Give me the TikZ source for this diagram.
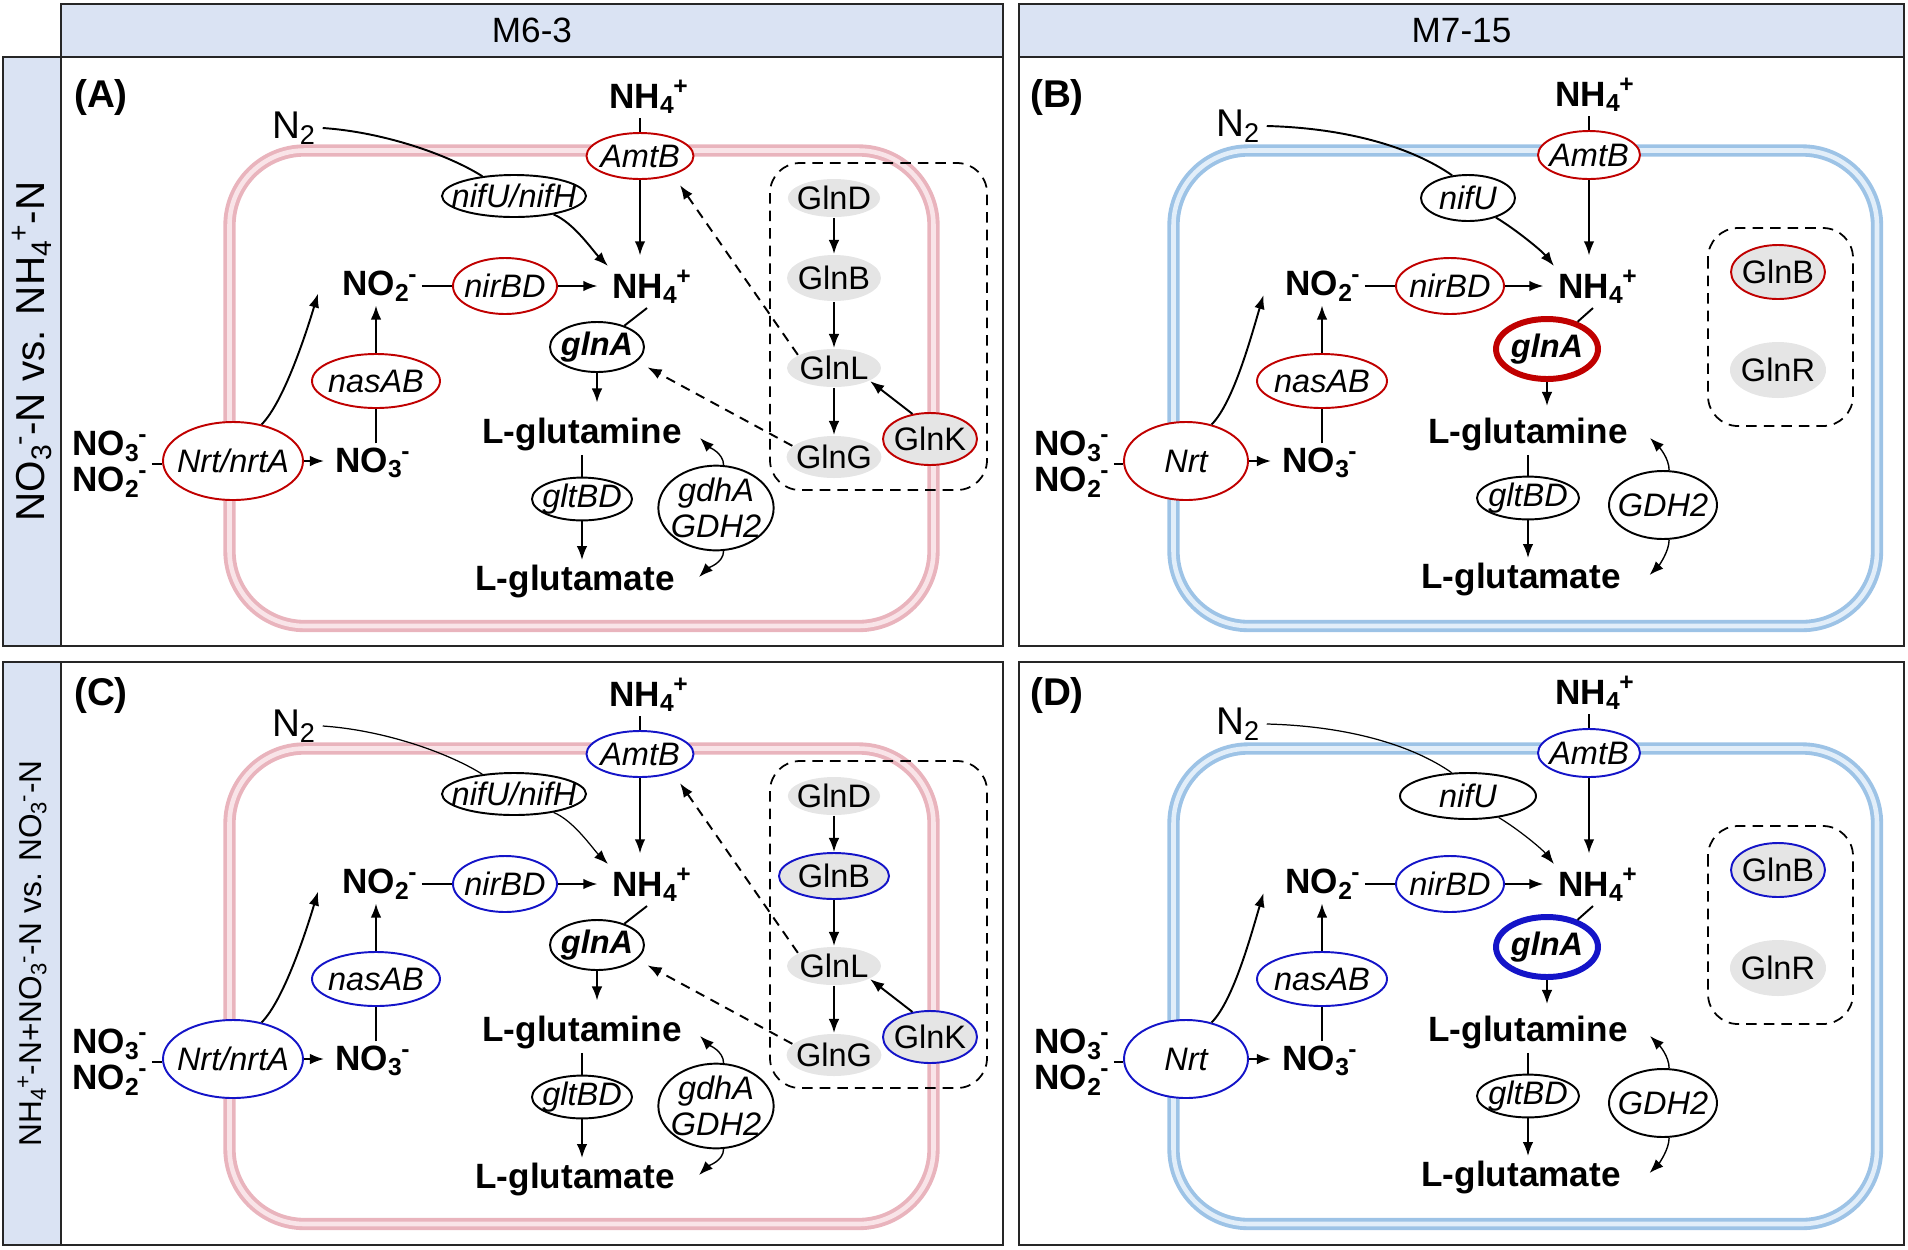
\documentclass[tikz,border=0pt]{standalone}
\usepackage{fontspec}
\setmainfont{Liberation Sans}
\usepackage{xcolor}
\usepackage{tikz}
\usetikzlibrary{shapes.geometric, arrows.meta, calc}

\definecolor{genered}{RGB}{192,0,0}
\definecolor{geneblue}{RGB}{20,20,200}
\definecolor{protgray}{RGB}{229,229,229}
\definecolor{headblue}{RGB}{218,227,243}
\definecolor{cellpink}{RGB}{233,180,189}
\definecolor{cellpinklt}{RGB}{249,228,232}
\definecolor{cellblue}{RGB}{157,195,230}
\definecolor{cellbluelt}{RGB}{226,238,249}

\newcommand{\chem}[2]{\textsubscript{#1}\kern-0.04em\textsuperscript{#2}}

\begin{document}
\begin{tikzpicture}[x=0.02cm, y=-0.02cm, line width=1.1pt]
	\tikzset{metab/.style={font=\bfseries\fontsize{20}{20.5}\selectfont, inner sep=2pt}}
	\tikzset{gene/.style={ellipse, draw, fill=white, line width=1.1pt, inner ysep=0pt, inner xsep=-2.5pt, font=\itshape\fontsize{18.5}{20.5}\selectfont}}
	\tikzset{prot/.style={ellipse, fill=protgray, inner ysep=0pt, inner xsep=-2.5pt, font=\fontsize{18.5}{20.5}\selectfont}}
	\tikzset{sz/.style 2 args={minimum width=#1*0.02cm, minimum height=#2*0.02cm}}
	\tikzset{arr/.style={-{Latex[length=8pt, width=6pt]}}}
	\tikzset{dasharr/.style={arr, dash pattern=on 5.5pt off 4pt, shorten >=7pt}}
	\tikzset{link/.style={-}}
	\tikzset{panelframe/.style={draw=black!85, line width=1.1pt}}
	\tikzset{hdr/.style={panelframe, fill=headblue, inner sep=0pt, font=\fontsize{20}{22}\selectfont}}
	\tikzset{paneltag/.style={font=\bfseries\fontsize{22}{24}\selectfont}}
	\tikzset{gas/.style={font=\fontsize{22}{24}\selectfont}}
	\tikzset{membrane/.style={line width=2.2pt, double distance=2.6pt, rounded corners=1.5cm}}
	\tikzset{grpbox/.style={draw, dash pattern=on 6pt off 4pt, line width=1pt, rounded corners=0.6cm}}
	
	\useasboundingbox (0,0) rectangle (1908,1249);
	
	% frames and headers
	\draw[panelframe] (61,57) rectangle (1003,646);
	\draw[panelframe] (1019,57) rectangle (1904,646);
	\draw[panelframe] (61,662) rectangle (1003,1245);
	\draw[panelframe] (1019,662) rectangle (1904,1245);
	\node[hdr, sz={942}{53}] (headL) at (532,30.5) {M6-3};
	\node[hdr, sz={885}{53}] (headR) at (1461.5,30.5) {M7-15};
	\node[hdr, rotate=90, sz={589}{58}, font=\fontsize{23}{25}\selectfont] (sideA) at (32,351.5) {NO\chem{3}{-}-N vs. NH\chem{4}{+}-N};
	\node[hdr, rotate=90, sz={583}{58}, font=\fontsize{18}{20}\selectfont] (sideC) at (32,953.5) {NH\chem{4}{+}-N+NO\chem{3}{-}-N vs. NO\chem{3}{-}-N};
	
	% M6-3 panels (A), (C)
	\foreach \dy/\pn/\gc/\gbc/\gbw/\nw in {0/A/genered/none/94/1.1pt, 598/C/geneblue/geneblue/110/0.7pt}{
	\begin{scope}[shift={(0,\dy)}, name prefix=\pn-]
		\draw[membrane, draw=cellpink, double=cellpinklt] (229.5,150.5) rectangle (933.5,626);
		\node[paneltag] (tag) at (101,97) {(\pn)};
		\node[gas] (N2) at (294,128) {N\textsubscript{2}};
		\node[metab] (NHt) at (649,97) {NH\chem{4}{+}};
		\node[gene, draw=\gc, sz={107}{46}] (AmtB) at (640,156) {AmtB};
		\node[gene, sz={144}{42}, inner xsep=-7pt] (nif) at (514,196) {nifU/nifH};
		\node[metab] (NHm) at (652,287) {NH\chem{4}{+}};
		\node[metab] (NO2) at (380,286) {NO\chem{2}{-}};
		\node[gene, draw=\gc, sz={104}{56}] (nirBD) at (505,286) {nirBD};
		\node[gene, sz={94}{50}, font=\bfseries\itshape\fontsize{18.5}{20.5}\selectfont] (glnA) at (597,347) {glnA};
		\node[gene, draw=\gc, sz={128}{54}] (nasAB) at (376,381) {nasAB};
		\node[gene, draw=\gc, sz={140}{78}, inner xsep=-4pt] (Nrt) at (233,461) {Nrt/nrtA};
		\node[metab, align=left] (NOx) at (110,464) {NO\chem{3}{-}\\NO\chem{2}{-}};
		\node[metab] (NO3) at (373,463) {NO\chem{3}{-}};
		\node[metab] (Gln) at (582,434) {L-glutamine};
		\node[gene, sz={100}{38}] (gltBD) at (582,499) {gltBD};
		\node[gene, align=center] (gdh) at (716,508) {gdhA\\GDH2};
		\node[metab] (Glu) at (575,581) {L-glutamate};
		
		\draw[grpbox] (770,163) rectangle (987,490);
		\node[prot, sz={92}{38}] (GlnD) at (834,198) {GlnD};
		\node[prot, draw=\gbc, line width=1.1pt, sz={\gbw}{46}] (GlnB) at (834,278) {GlnB};
		\node[prot, sz={94}{38}] (GlnL) at (834,368) {GlnL};
		\node[prot, sz={94}{42}] (GlnG) at (834,457) {GlnG};
		\node[prot, draw=\gc, line width=1.1pt, sz={94}{52}] (GlnK) at (930,439) {GlnK};
		
		\draw[link, line width=\nw] (N2.east) .. controls +(60,4) and +(-35,-22) .. (nif.148);
		\draw[arr, line width=\nw] (nif.-25) .. controls +(20,8) and +(-15,-15) .. (NHm.north west);
		\draw[link] (AmtB.north |- NHt.south) -- (AmtB.north);
		\draw[arr, shorten >=6pt] (AmtB.south) -- (AmtB.south |- NHm.north);
		\draw[link] (NO2.east) -- (nirBD.west);
		\draw[arr, shorten >=6pt] (nirBD.east) -- (nirBD.east -| NHm.west);
		\draw[link] ([xshift=-0.1cm]NHm.south) -- (glnA);
		\draw[arr, shorten >=6pt] (glnA.south) -- (glnA.south |- Gln.north);
		\draw[arr] (nasAB.north) -- (nasAB.north |- NO2.south);
		\draw[link] (nasAB.south |- NO3.north) -- (nasAB.south);
		\draw[link] (NOx.east) -- (NOx.east -| Nrt.west);
		\draw[arr, shorten >=4pt] (Nrt.east) -- (Nrt.east -| NO3.west);
		\draw[arr] (Nrt.52) .. controls +(22,-22) and +(-12,40) .. ([xshift=-0.4cm, yshift=-0.15cm]NO2.west);
		\draw[link] (gltBD.north |- Gln.south) -- (gltBD.north);
		\draw[arr] (gltBD.south) -- (gltBD.south |- Glu.north);
		\draw[arr, line width=0.8pt] (gdh.80) .. controls +(0,-12) and +(9,9) .. ([xshift=0.28cm, yshift=-0.08cm]Gln.east);
		\draw[arr, line width=0.8pt] (gdh.-80) .. controls +(0,12) and +(9,-9) .. ([xshift=0.4cm, yshift=0.08cm]Glu.east);
		\draw[arr] (GlnD) -- (GlnB);
		\draw[arr] (GlnB) -- (GlnL);
		\draw[arr] (GlnL) -- (GlnG);
		\draw[arr] (GlnK.125) -- (GlnL.-20);
		\draw[dasharr] (GlnL.160) -- (AmtB.-30);
		\draw[dasharr] (GlnG.165) -- (glnA.-20);
	\end{scope}}
	
	% M7-15 panels (B), (D)
	\foreach \dy/\pn/\gc/\nifw/\nw in {0/B/genered/94/1.1pt, 598/D/geneblue/136/0.7pt}{
	\begin{scope}[shift={(0,\dy)}, name prefix=\pn-]
		\draw[membrane, draw=cellblue, double=cellbluelt] (1173.5,150.5) rectangle (1877,626);
		\node[paneltag] (tag) at (1057,97) {(\pn)};
		\node[gas] (N2) at (1238,126) {N\textsubscript{2}};
		\node[metab] (NHt) at (1595,95) {NH\chem{4}{+}};
		\node[gene, draw=\gc, sz={102}{48}] (AmtB) at (1589,155) {AmtB};
		\node[gene, sz={\nifw}{46}] (nif) at (1468,198) {nifU};
		\node[metab] (NHm) at (1598,287) {NH\chem{4}{+}};
		\node[metab] (NO2) at (1323,286) {NO\chem{2}{-}};
		\node[gene, draw=\gc, sz={108}{56}] (nirBD) at (1450,286) {nirBD};
		\node[gene, draw=\gc, line width=3.4pt, sz={102}{60}, font=\bfseries\itshape\fontsize{18.5}{20.5}\selectfont] (glnA) at (1547,349) {glnA};
		\node[gene, draw=\gc, sz={130}{54}] (nasAB) at (1322,381) {nasAB};
		\node[gene, draw=\gc, sz={124}{78}] (Nrt) at (1186,461) {Nrt};
		\node[metab, align=left] (NOx) at (1072,464) {NO\chem{3}{-}\\NO\chem{2}{-}};
		\node[metab] (NO3) at (1320,463) {NO\chem{3}{-}};
		\node[metab] (Gln) at (1528,434) {L-glutamine};
		\node[gene, sz={102}{38}] (gltBD) at (1528,498) {gltBD};
		\node[gene, sz={108}{68}, inner xsep=-4pt] (GDH) at (1663,505) {GDH2};
		\node[metab] (Glu) at (1521,579) {L-glutamate};
		
		\draw[grpbox] (1708,228) rectangle (1853,426);
		\node[prot, draw=\gc, line width=1.1pt, sz={94}{54}] (GlnB) at (1778,272) {GlnB};
		\node[prot, sz={96}{56}] (GlnR) at (1778,370) {GlnR};
		
		\draw[link, line width=\nw] (N2.east) .. controls +(80,2) and +(-40,-28) .. (nif.125);
		\draw[arr, line width=\nw] (nif.-35) .. controls +(20,12) and +(-12,-15) .. (NHm.north west);
		\draw[link] (AmtB.north |- NHt.south) -- (AmtB.north);
		\draw[arr, shorten >=6pt] (AmtB.south) -- (AmtB.south |- NHm.north);
		\draw[link] (NO2.east) -- (nirBD.west);
		\draw[arr, shorten >=6pt] (nirBD.east) -- (nirBD.east -| NHm.west);
		\draw[link] ([xshift=-0.1cm]NHm.south) -- (glnA);
		\draw[arr, shorten >=4pt] (glnA.south) -- (glnA.south |- Gln.north);
		\draw[arr] (nasAB.north) -- (nasAB.north |- NO2.south);
		\draw[link] (nasAB.south |- NO3.north) -- (nasAB.south);
		\draw[link] (NOx.east) -- (NOx.east -| Nrt.west);
		\draw[arr, shorten >=4pt] (Nrt.east) -- (Nrt.east -| NO3.west);
		\draw[arr] (Nrt.55) .. controls +(22,-22) and +(-12,40) .. ([xshift=-0.35cm, yshift=-0.18cm]NO2.west);
		\draw[link] (gltBD.north |- Gln.south) -- (gltBD.north);
		\draw[arr] (gltBD.south) -- (gltBD.south |- Glu.north);
		\draw[arr, line width=0.8pt] (GDH.80) .. controls +(0,-12) and +(9,9) .. ([xshift=0.36cm, yshift=-0.08cm]Gln.east);
		\draw[arr, line width=0.8pt] (GDH.-80) .. controls +(0,12) and +(9,-9) .. ([xshift=0.49cm, yshift=0.08cm]Glu.east);
	\end{scope}}
\end{tikzpicture}
\end{document}
